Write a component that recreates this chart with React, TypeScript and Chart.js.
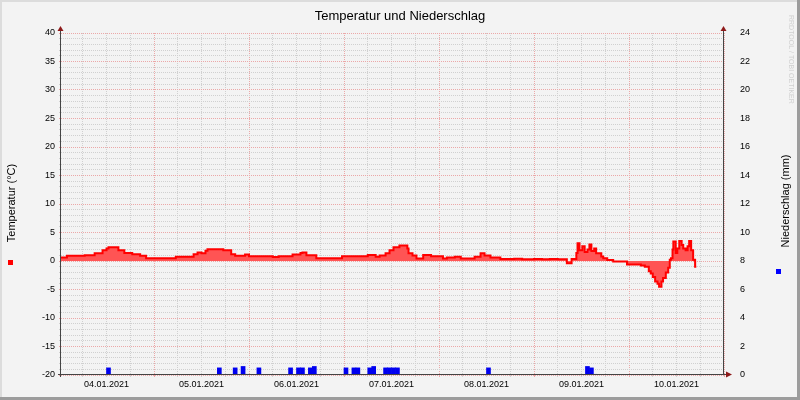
import { useEffect, useRef } from "react";
import { Chart, registerables } from "chart.js";

Chart.register(...registerables);

// ---------- text ----------
const chartTitle = "Temperatur und Niederschlag";
const leftAxisTitle = "Temperatur (°C)";
const rightAxisTitle = "Niederschlag (mm)";
const watermark = "RRDTOOL / TOBI OETIKER";

// ---------- x axis (hours since 04.01.2021 00:00) ----------
const xStart = 0.5;
const xEnd = 168;
const dayLabels = ["04.01.2021", "05.01.2021", "06.01.2021", "07.01.2021", "08.01.2021", "09.01.2021", "10.01.2021"];
const xGridHours = [6, 12, 18, 24, 30, 36, 42, 48, 54, 60, 66, 72, 78, 84, 90, 96, 102, 108, 114, 120, 126, 132, 138, 144, 150, 156, 162, 168];

// ---------- y axes ----------
const tempTickLabels = [-20, -15, -10, -5, 0, 5, 10, 15, 20, 25, 30, 35, 40];
const rainTickLabels = [0, 2, 4, 6, 8, 10, 12, 14, 16, 18, 20, 22, 24];

// ---------- temperature (°C), value holds from its hour on ----------
const tempHours = [0.5, 2, 6.5, 9, 11, 12, 12.5, 15, 16.5, 18.5, 20.5, 22, 29.5, 34, 35, 36, 37, 37.5, 41.5, 43.5, 44.5, 47, 48, 54, 55.5, 59, 61, 61.5, 62.5, 65, 71.5, 78, 80, 81, 82.5, 83.5, 84.5, 86, 88, 88.3, 89.3, 90.3, 92, 94, 97, 98, 100, 101.5, 105, 106.5, 107.5, 109, 111.5, 115, 117, 120, 122, 124, 126, 128.3, 129.5, 130.7, 131, 131.5, 132.2, 132.8, 133.5, 134, 134.5, 135.2, 135.7, 137, 137.5, 138.5, 140, 143.5, 147, 148, 149, 149.5, 150, 150.6, 151.2, 151.6, 152.2, 152.6, 153.3, 153.9, 154.3, 154.6, 155, 155.2, 155.8, 156.2, 156.7, 157.3, 157.7, 158.3, 158.8, 159.2, 159.7, 160.2, 160.7, 161];
const tempValues = [0.6, 0.9, 1.0, 1.35, 1.9, 2.2, 2.4, 1.9, 1.4, 1.2, 0.9, 0.5, 0.75, 1.2, 1.5, 1.35, 1.8, 2.05, 1.9, 1.2, 0.9, 1.15, 0.85, 0.7, 0.85, 1.15, 1.4, 1.5, 1.0, 0.5, 0.85, 1.05, 0.75, 0.95, 1.35, 1.9, 2.4, 2.7, 2.2, 1.35, 0.95, 0.45, 1.05, 0.85, 0.45, 0.6, 0.75, 0.45, 0.75, 1.35, 0.95, 0.6, 0.35, 0.4, 0.3, 0.35, 0.3, 0.35, 0.3, -0.4, 0.35, 1.4, 3.1, 1.9, 2.6, 1.6, 2.0, 2.9, 1.75, 2.2, 1.35, 0.8, 0.47, 0.17, -0.1, -0.6, -0.8, -1.0, -1.8, -2.2, -2.8, -3.6, -4.0, -4.5, -3.6, -3.0, -2.0, -1.2, 0.2, 0.5, 2.0, 3.4, 1.4, 2.2, 3.5, 2.8, 2.2, 1.9, 2.6, 3.5, 1.9, 0.2, -1.0, -1.0];

// ---------- precipitation (mm per hour) ----------
const rainHours = [12, 40, 44, 46, 47, 50, 58, 60, 61, 63, 64, 72, 74, 75, 78, 79, 82, 83, 84, 85, 108, 133, 134, 135];
const rainValues = [0.5, 0.5, 0.5, 0.6, 0.05, 0.5, 0.5, 0.5, 0.5, 0.5, 0.6, 0.5, 0.5, 0.5, 0.5, 0.6, 0.5, 0.5, 0.5, 0.5, 0.5, 0.6, 0.5, 0.05];

// ---------- styles ----------
const FONT = "'Liberation Sans', Arial, sans-serif";
const BG = "#F3F3F3";
const MINOR = "#D0D0D0";
const MAJOR = "#EBA8A8";
const AXIS = "#444444";
const ARROW = "#8E1A1A";
const FILL = "#FF5454";

const decorPlugin = {
  id: "rrdDecor",
  beforeDraw(chart: any) {
    const { ctx, width, height } = chart;
    ctx.save();
    ctx.fillStyle = BG;
    ctx.fillRect(0, 0, width, height);
    ctx.restore();
  },
  afterDraw(chart: any) {
    const { ctx, width, height, chartArea: a } = chart;
    ctx.save();
    // 3D border
    ctx.fillStyle = "#DCDCDC";
    ctx.fillRect(0, 0, width, 2);
    ctx.fillRect(0, 0, 2, height);
    ctx.fillStyle = "#9C9C9C";
    ctx.fillRect(0, height - 3, width, 3);
    ctx.fillRect(width - 3, 0, 3, height);

    // axis lines
    ctx.strokeStyle = AXIS;
    ctx.lineWidth = 1;
    ctx.beginPath();
    ctx.moveTo(a.left - 0.5, a.bottom + 2);
    ctx.lineTo(a.left - 0.5, a.top - 4);
    ctx.moveTo(a.right - 0.5, a.bottom);
    ctx.lineTo(a.right - 0.5, a.top - 4);
    ctx.moveTo(a.left - 3, a.bottom - 0.5);
    ctx.lineTo(a.right + 4, a.bottom - 0.5);
    ctx.stroke();

    // arrows
    ctx.fillStyle = ARROW;
    const up = (x: number) => {
      ctx.beginPath();
      ctx.moveTo(x, a.top - 7);
      ctx.lineTo(x - 3, a.top - 2);
      ctx.lineTo(x + 3, a.top - 2);
      ctx.closePath();
      ctx.fill();
    };
    up(a.left - 0.5);
    up(a.right - 0.5);
    ctx.beginPath();
    ctx.moveTo(a.right + 8, a.bottom - 0.5);
    ctx.lineTo(a.right + 2, a.bottom - 3.5);
    ctx.lineTo(a.right + 2, a.bottom + 2.5);
    ctx.closePath();
    ctx.fill();

    // title
    ctx.fillStyle = "#000";
    ctx.font = `13px ${FONT}`;
    ctx.textAlign = "center";
    ctx.textBaseline = "alphabetic";
    ctx.fillText(chartTitle, width / 2, 20);

    // axis titles
    ctx.font = `11px ${FONT}`;
    ctx.textBaseline = "middle";
    ctx.save();
    ctx.translate(12, 203);
    ctx.rotate(-Math.PI / 2);
    ctx.fillText(leftAxisTitle, 0, 0);
    ctx.restore();
    ctx.save();
    ctx.translate(786, 201);
    ctx.rotate(-Math.PI / 2);
    ctx.fillText(rightAxisTitle, 0, 0);
    ctx.restore();

    // legend markers
    ctx.fillStyle = "#FF0000";
    ctx.fillRect(8, 260, 5, 5);
    ctx.fillStyle = "#0000FF";
    ctx.fillRect(776, 269, 5, 5);

    // watermark
    ctx.fillStyle = "#D0D0D0";
    ctx.font = `7px ${FONT}`;
    ctx.textAlign = "left";
    ctx.save();
    ctx.translate(790.5, 15);
    ctx.rotate(Math.PI / 2);
    ctx.fillText(watermark, 0, 0);
    ctx.restore();

    ctx.restore();
  },
};

export default function App() {
  const ref = useRef<HTMLCanvasElement>(null);

  useEffect(() => {
    if (!ref.current) return;
    const chart = new Chart(ref.current, {
      type: "line",
      data: {
        datasets: [
          {
            type: "line",
            label: "Temperatur",
            data: tempHours.map((h, i) => ({ x: h, y: tempValues[i] })),
            yAxisID: "y",
            xAxisID: "x",
            stepped: true,
            fill: { target: "origin", above: FILL, below: FILL },
            backgroundColor: FILL,
            borderColor: "#FF0000",
            borderWidth: 2,
            pointRadius: 0,
            order: 2,
          } as any,
          {
            type: "bar",
            label: "Niederschlag",
            data: rainHours.map((h, i) => ({ x: h + 0.5, y: rainValues[i] })),
            yAxisID: "y2",
            xAxisID: "x",
            backgroundColor: "#0000F0",
            borderWidth: 0,
            barThickness: 4,
            order: 1,
          } as any,
        ],
      },
      options: {
        responsive: false,
        animation: false,
        devicePixelRatio: 1,
        layout: { padding: { top: 33, left: 0, right: 0, bottom: 0 } },
        plugins: {
          legend: { display: false },
          title: { display: false },
          tooltip: { enabled: false },
        } as any,
        scales: {
          x: {
            type: "linear",
            position: "bottom",
            min: xStart,
            max: xEnd,
            offset: false,
            afterBuildTicks: (s: any) => {
              s.ticks = xGridHours.map((v) => ({ value: v }));
            },
            afterFit: (s: any) => {
              s.height = 25;
            },
            grid: {
              offset: false,
              color: (c: any) => (c.tick && c.tick.value % 24 === 0 ? MAJOR : MINOR),
              tickLength: 2,
              drawTicks: true,
            },
            border: { display: false, dash: [1, 1] },
            ticks: {
              autoSkip: false,
              maxRotation: 0,
              minRotation: 0,
              padding: 2,
              color: "#000",
              font: { family: FONT, size: 9 },
              callback: (v: any) => (Number(v) % 24 === 12 ? dayLabels[(Number(v) - 12) / 24] : ""),
            },
          },
          y: {
            type: "linear",
            position: "left",
            min: -20,
            max: 40,
            afterBuildTicks: (s: any) => {
              const t = [];
              for (let v = -20; v <= 40; v++) t.push({ value: v });
              s.ticks = t;
            },
            afterFit: (s: any) => {
              s.width = 61;
            },
            grid: {
              color: (c: any) => (c.tick && c.tick.value % 5 === 0 ? MAJOR : MINOR),
              tickLength: 2,
            },
            border: { display: false, dash: [1, 1] },
            ticks: {
              autoSkip: false,
              padding: 4,
              color: "#000",
              font: { family: FONT, size: 9 },
              callback: (v: any) => (tempTickLabels.includes(Number(v)) ? String(v) : ""),
            },
          },
          y2: {
            type: "linear",
            position: "right",
            min: 0,
            max: 24,
            afterBuildTicks: (s: any) => {
              s.ticks = rainTickLabels.map((v) => ({ value: v }));
            },
            afterFit: (s: any) => {
              s.width = 76;
            },
            grid: { display: false, drawTicks: false, drawOnChartArea: false },
            border: { display: false },
            ticks: {
              autoSkip: false,
              padding: 16,
              color: "#000",
              font: { family: FONT, size: 9 },
              callback: (v: any) => String(v),
            },
          },
        },
      },
      plugins: [decorPlugin],
    });
    return () => chart.destroy();
  }, []);

  return (
    <div style={{ position: "absolute", left: 0, top: 0, width: 800, height: 400, background: BG }}>
      <canvas ref={ref} width={800} height={400} style={{ display: "block", width: 800, height: 400 }} />
    </div>
  );
}
